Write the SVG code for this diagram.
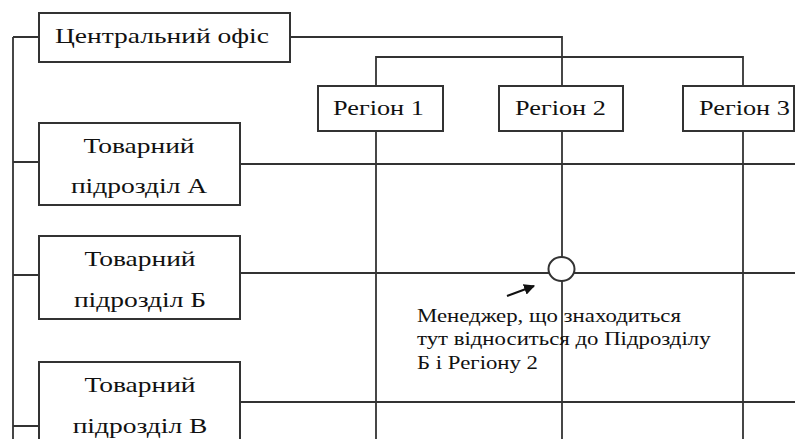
<svg xmlns="http://www.w3.org/2000/svg" width="795" height="439" viewBox="0 0 795 439">
<defs>
<style>
.box{fill:#fff;stroke:#333;stroke-width:2}
.ln{fill:none;stroke:#333;stroke-width:1.8}
</style>
<marker id="ah" viewBox="0 0 10 10" refX="9" refY="5" markerWidth="5" markerHeight="5" orient="auto">
<path d="M0,0 L10,5 L0,10 z" fill="#111"/>
</marker>
</defs>
<rect width="795" height="439" fill="#fff"/>
<g id="connectors">
<path class="ln" d="M13,37 V439 M13,37 H40 M13,162 H40 M13,275 H40 M13,426 H40"/>
<path class="ln" d="M290,37 H562 V86 M376,86 V57 H743 V86"/>
<path class="ln" d="M376,131 V439 M562,131 V439 M743,131 V439"/>
<path class="ln" d="M240,164 H795 M240,273 H795 M240,402 H795"/>
<line x1="507" y1="296" x2="534" y2="286" stroke="#111" stroke-width="2.2" marker-end="url(#ah)"/>
</g>
<g font-family="Liberation Serif, serif" fill="#111">
<g id="central">
<rect class="box" x="39" y="13" width="251" height="49"/>
<text transform="translate(55,43) scale(1.25,1)" font-size="22">Центральний офіс</text>
</g>
<g id="region1">
<rect class="box" x="318" y="86" width="125" height="45"/>
<text transform="translate(333,115) scale(1.25,1)" font-size="21">Регіон 1</text>
</g>
<g id="region2">
<rect class="box" x="499" y="86" width="124" height="45"/>
<text transform="translate(515,115) scale(1.25,1)" font-size="21">Регіон 2</text>
</g>
<g id="region3">
<rect class="box" x="683" y="86" width="111" height="45"/>
<text transform="translate(699,115) scale(1.25,1)" font-size="21">Регіон 3</text>
</g>
<g id="unitA" text-anchor="middle">
<rect class="box" x="39" y="123" width="201" height="82"/>
<text transform="translate(139,153) scale(1.25,1)" font-size="22">Товарний</text>
<text transform="translate(139,193) scale(1.25,1)" font-size="22">підрозділ А</text>
</g>
<g id="unitB" text-anchor="middle">
<rect class="box" x="39" y="236" width="201" height="83"/>
<text transform="translate(140,266) scale(1.25,1)" font-size="22">Товарний</text>
<text transform="translate(140,307) scale(1.25,1)" font-size="22">підрозділ Б</text>
</g>
<g id="unitC" text-anchor="middle">
<rect class="box" x="39" y="362" width="201" height="90"/>
<text transform="translate(140,392) scale(1.25,1)" font-size="22">Товарний</text>
<text transform="translate(140,433) scale(1.25,1)" font-size="22">підрозділ В</text>
</g>
<g id="manager">
<ellipse class="box" cx="561.5" cy="269" rx="13" ry="12"/>
</g>
<g id="note">
<text transform="translate(417,322) scale(1.2,1)" font-size="19">Менеджер, що знаходиться</text>
<text transform="translate(417,345) scale(1.2,1)" font-size="19">тут відноситься до Підрозділу</text>
<text transform="translate(417,369) scale(1.2,1)" font-size="19">Б і Регіону 2</text>
</g>
</g>
</svg>
